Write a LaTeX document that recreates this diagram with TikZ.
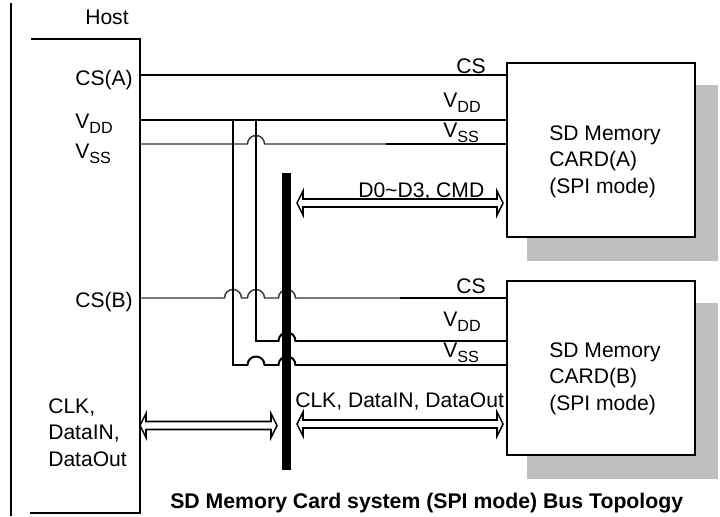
\documentclass[tikz,border=0pt]{standalone}
\usepackage{fontspec}
\setmainfont{Liberation Sans}
\usetikzlibrary{calc}
\definecolor{shadowgray}{gray}{0.75}
\newcommand{\lowtext}[1]{\raisebox{-0.45ex}{\fontsize{11.5}{12}\selectfont #1}}
\newcommand{\hop}[2]{-- (#1-8.5,#2) arc[start angle=180,end angle=0,radius=8.5]}
\newcommand{\busarrow}[2]{\draw[line width=1.1pt] (#1) -- ++(6,12) -- ++(0,-8) -- ($(#2)+(-6,4)$) -- ++(0,8) -- (#2) -- ++(-6,-12) -- ++(0,8) -- ($(#1)+(6,-4)$) -- ++(0,-8) -- cycle;}
\tikzset{
	wire/.style={line width=1.4pt},
	thinwire/.style={line width=1pt, black!80},
	cardbox/.style={draw, line width=1.4pt, fill=white, minimum width=4.7cm, minimum height=4.35cm},
	cardshadow/.style={fill=shadowgray, minimum width=4.775cm, minimum height=4.4cm},
	label/.style={anchor=base west, inner sep=0pt, font=\fontsize{15}{19}\selectfont},
	cardtext/.style={label, anchor=north west, align=left}
}
\begin{document}
\begin{tikzpicture}[x=0.025cm, y=0.025cm]
	\useasboundingbox (0,0) rectangle (720,516);
	\draw[wire] (11,513) -- (11,0);
	\draw[wire] (31,477) -- (140,477) -- (140,3) -- (30,3);
	
	\node[cardshadow] (shadowA) at (622.5,343) {};
	\node[cardshadow] (shadowB) at (622.5,125) {};
	\node[cardbox] (cardA) at (601,366) {};
	\node[cardbox] (cardB) at (601,148) {};
	
	\coordinate (hostCSA) at (140,441);
	\coordinate (hostVDD) at (140,396);
	\coordinate (hostVSS) at (140,372);
	\coordinate (hostCSB) at (140,218);
	\coordinate (hostCLK) at (140,90.5);
	\coordinate (tapSS) at (233,396);
	\coordinate (tapDD) at (256,396);
	\coordinate (lineSS) at (233,151);
	\coordinate (lineDD) at (256,175);
	\coordinate (busCLK) at (277,90.5);
	\coordinate (busDataA) at (297,313);
	\coordinate (busDataB) at (297,92);
	\coordinate (portDataA) at (503,313);
	\coordinate (portDataB) at (503,92);
	
	\draw[wire] (hostCSA) -- (cardA.west |- hostCSA);
	\draw[wire] (hostVDD) -- (cardA.west |- hostVDD);
	\draw[thinwire] (hostVSS) \hop{256}{372} -- (386,372) coordinate (midVSS);
	\draw[wire] (midVSS) -- (cardA.west |- midVSS);
	\draw[thinwire] (hostCSB) \hop{233}{218} \hop{256}{218} \hop{287}{218} -- (400,218) coordinate (midCSB);
	\draw[wire] (midCSB) -- (cardB.west |- midCSB);
	\draw[wire] (tapSS) -- (lineSS) \hop{256}{151} \hop{287}{151} -- (cardB.west |- lineSS);
	\draw[wire] (tapDD) -- (lineDD) \hop{287}{175} -- (cardB.west |- lineDD);
	
	\node[fill=black, inner sep=0pt, minimum width=0.225cm, minimum height=7.425cm] (busbar) at (286.5,194.5) {};
	
	\busarrow{busDataA}{portDataA}
	\busarrow{busDataB}{portDataB}
	\busarrow{hostCLK}{busCLK}
	
	\node[label] (hostname) at (85,492) {Host};
	\node[label] (labelCSA) at (75,431) {CS(A)};
	\node[label] (labelVDD) at (75,388) {V\lowtext{DD}};
	\node[label] (labelVSS) at (75,358) {V\lowtext{SS}};
	\node[label] (labelCSB) at (75,209) {CS(B)};
	\node[cardtext] (labelCLK) at (48,118) {CLK,\\DataIN,\\DataOut};
	
	\node[label] (csA) at (456,443) {CS};
	\node[label] (vddA) at (443,409) {V\lowtext{DD}};
	\node[label] (vssA) at (443,379) {V\lowtext{SS}};
	\node[label] (dataA) at (358,319) {D0\textasciitilde D3, CMD};
	\node[label] (csB) at (456,223) {CS};
	\node[label] (vddB) at (443,190) {V\lowtext{DD}};
	\node[label] (vssB) at (443,159) {V\lowtext{SS}};
	\node[label] (dataB) at (295,109) {CLK, DataIN, DataOut};
	
	\node[cardtext] (textA) at (549,391) {SD Memory\\CARD(A)\\(SPI mode)};
	\node[cardtext] (textB) at (549,174) {SD Memory\\CARD(B)\\(SPI mode)};
	
	\node[label, font=\fontsize{15.1}{18}\selectfont\bfseries] (caption) at (170,8) {SD Memory Card system (SPI mode) Bus Topology};
\end{tikzpicture}
\end{document}
